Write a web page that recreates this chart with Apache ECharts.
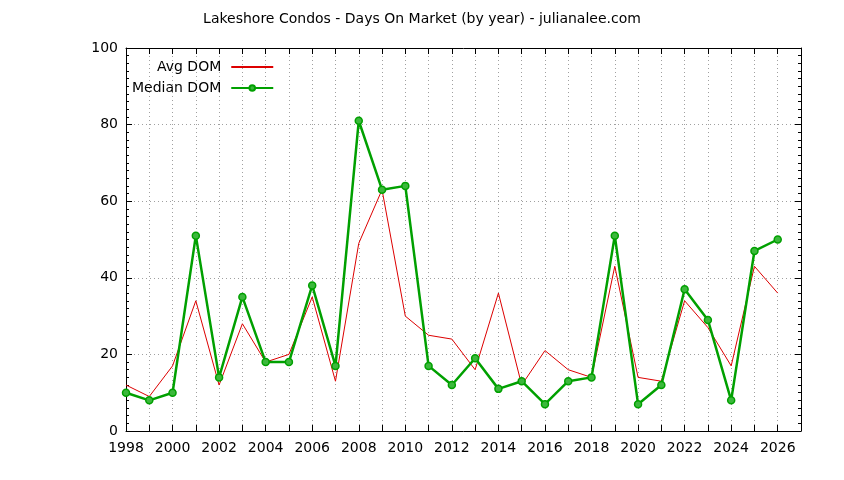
<!DOCTYPE html>
<html>
<head>
<meta charset="utf-8">
<script src="https://cdn.jsdelivr.net/npm/echarts@6/dist/echarts.min.js"></script>
<style>
html,body{margin:0;padding:0;background:#fff;}
#chart{width:844px;height:480px;}
</style>
</head>
<body>
<div id="chart"></div>
<script>
var years = [1998,1999,2000,2001,2002,2003,2004,2005,2006,2007,2008,2009,2010,2011,2012,2013,2014,2015,2016,2017,2018,2019,2020,2021,2022,2023,2024,2025,2026];
var avgDOM = [12,9,17,34,12,28,18,20,35,13,49,63,30,25,24,16,36,12,21,16,14,43,14,13,34,27,17,43,36];
var medianDOM = [10,8,10,51,14,35,18,18,38,17,81,63,64,17,12,19,11,13,7,13,14,51,7,12,37,29,8,47,50];
var titleText = 'Lakeshore Condos - Days On Market (by year) - julianalee.com';

var FONT = 'DejaVu Sans';
var chart = echarts.init(document.getElementById('chart'), null, {renderer:'canvas'});
function pairs(arr){ return years.map(function(y,i){ return [y, arr[i]]; }); }
var gridStyle = {show:true, lineStyle:{color:'#a0a0a0', type:[1,3], width:1}};
chart.setOption({
  animation:false,
  backgroundColor:'#fff',
  title:{text:titleText, left:'center', top:7, textStyle:{fontFamily:FONT, fontSize:14, fontWeight:'normal', color:'#000'}},
  legend:{data:[{name:'Avg DOM', itemStyle:{opacity:0}}, {name:'Median DOM'}], left:127, top:55, orient:'vertical', align:'right',
     itemWidth:42, itemHeight:7, itemGap:7, selectedMode:false,
     textStyle:{fontFamily:FONT, fontSize:14, color:'#000', width:91, align:'right', padding:[0,5,0,0]}},
  grid:{left:126, right:43, top:48, bottom:49},
  xAxis:[
    {type:'value', min:1998, max:2027, interval:1, position:'bottom',
     axisLine:{onZero:false, lineStyle:{color:'#000', width:1}},
     axisTick:{inside:true, length:6, lineStyle:{color:'#000'}},
     axisLabel:{fontFamily:FONT, fontSize:14, color:'#000', margin:10,
       formatter:function(v){ return (v%2===0 && v<=2026) ? String(v) : ''; }},
     splitLine:gridStyle},
    {type:'value', min:1998, max:2027, interval:1, position:'top',
     axisLine:{onZero:false, lineStyle:{color:'#000', width:1}},
     axisTick:{inside:true, length:6, lineStyle:{color:'#000'}},
     axisLabel:{show:false}, splitLine:{show:false}}
  ],
  yAxis:[
    {type:'value', min:0, max:100, interval:20, position:'left',
     axisLine:{show:true, onZero:false, lineStyle:{color:'#000', width:1}},
     axisTick:{show:true, inside:true, length:6, lineStyle:{color:'#000'}},
     minorTick:{show:true, splitNumber:10, length:3, lineStyle:{color:'#000'}},
     axisLabel:{fontFamily:FONT, fontSize:14, color:'#000', margin:8},
     splitLine:gridStyle},
    {type:'value', min:0, max:100, interval:20, position:'right',
     axisLine:{show:true, onZero:false, lineStyle:{color:'#000', width:1}},
     axisTick:{show:true, inside:true, length:6, lineStyle:{color:'#000'}},
     minorTick:{show:true, splitNumber:10, length:3, lineStyle:{color:'#000'}},
     axisLabel:{show:false}, splitLine:{show:false}}
  ],
  series:[
    {name:'Avg DOM', type:'line', data:pairs(avgDOM), symbol:'none',
     lineStyle:{color:'#dd0000', width:1}, itemStyle:{color:'#dd0000'}, z:2},
    {name:'Median DOM', type:'line', data:pairs(medianDOM), symbol:'circle', symbolSize:7,
     lineStyle:{color:'#00a000', width:2.5}, itemStyle:{color:'#3cb83c', borderColor:'#00a000', borderWidth:1.5}, z:3}
  ]
});
</script>
</body>
</html>
